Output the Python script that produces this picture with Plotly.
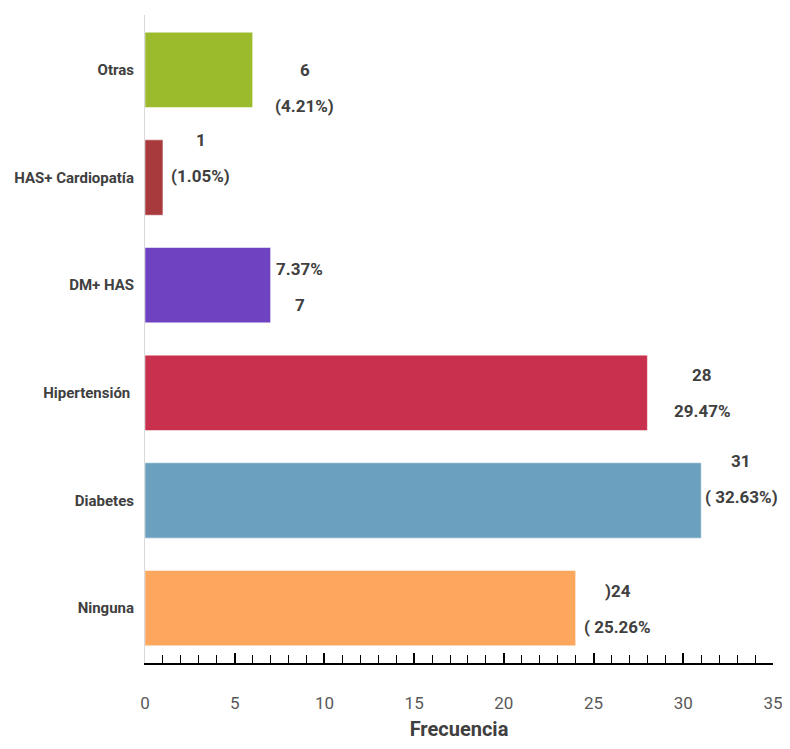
import plotly.graph_objects as go

# datos (de abajo hacia arriba)
categorias = ["Ninguna", "Diabetes", "Hipertensión ", "DM+ HAS", "HAS+ Cardiopatía", "Otras"]
frecuencias = [24, 31, 28, 7, 1, 6]
linea_sup = [")24", "31", "28", "7.37%", "1", "6"]
linea_inf = ["( 25.26%", "( 32.63%)", "29.47%", "7", "(1.05%)", "(4.21%)"]
colores = ["#FDA65D", "#6BA1BF", "#C8304D", "#6F42C1", "#A83A3E", "#9BBB2C"]

FUENTE = "Roboto, Liberation Sans, sans-serif"
# desplazamiento (px) del bloque de texto respecto al final de la barra
desp_x = [42, 40, 55, 29, 38, 52]
desp_y = [-1, 21, 0, -2, 20, -18]
SEP = 18

fig = go.Figure(go.Bar(
    x=frecuencias, y=categorias, orientation="h",
    marker=dict(color=colores, line=dict(color="rgba(255,255,255,0.5)", width=1)),
    width=0.7, hoverinfo="skip",
))

for i, c in enumerate(categorias):
    for txt, dy in ((linea_sup[i], SEP), (linea_inf[i], -SEP)):
        fig.add_annotation(
            x=frecuencias[i], y=c, text="<b>%s</b>" % txt, showarrow=False,
            xanchor="center", yanchor="middle",
            xshift=desp_x[i], yshift=desp_y[i] + dy,
            font=dict(family=FUENTE, size=17, color="#404040"),
        )

fig.update_xaxes(
    range=[0, 35], dtick=5, showgrid=False, zeroline=False, automargin=False,
    showline=True, linecolor="black", linewidth=2,
    ticks="inside", ticklen=10, tickwidth=1.5, tickcolor="black",
    minor=dict(dtick=1, ticks="inside", ticklen=8, tickwidth=1.2, tickcolor="black"),
    ticklabelstandoff=24, ticklabeloverflow="allow",
    tickfont=dict(family=FUENTE, size=17, color="#595959"),
    title=dict(text="<b>Frecuencia</b>", standoff=14,
               font=dict(family=FUENTE, size=20, color="#404040")),
)
fig.update_yaxes(
    range=[-0.51, 5.51], showgrid=False, zeroline=False, automargin=False,
    showline=True, linecolor="#D9D9D9", linewidth=1, ticks="",
    ticklabelstandoff=7,
    tickfont=dict(family=FUENTE, size=15, color="#404040"),
    tickvals=categorias, ticktext=["<b>%s</b>" % c for c in categorias],
)
# la página deja 8 px de margen alrededor de la figura
fig.update_layout(
    width=782, height=733, plot_bgcolor="white", paper_bgcolor="white",
    margin=dict(l=137, r=17, t=7, b=78), showlegend=False,
)
fig.write_html("out.html")
